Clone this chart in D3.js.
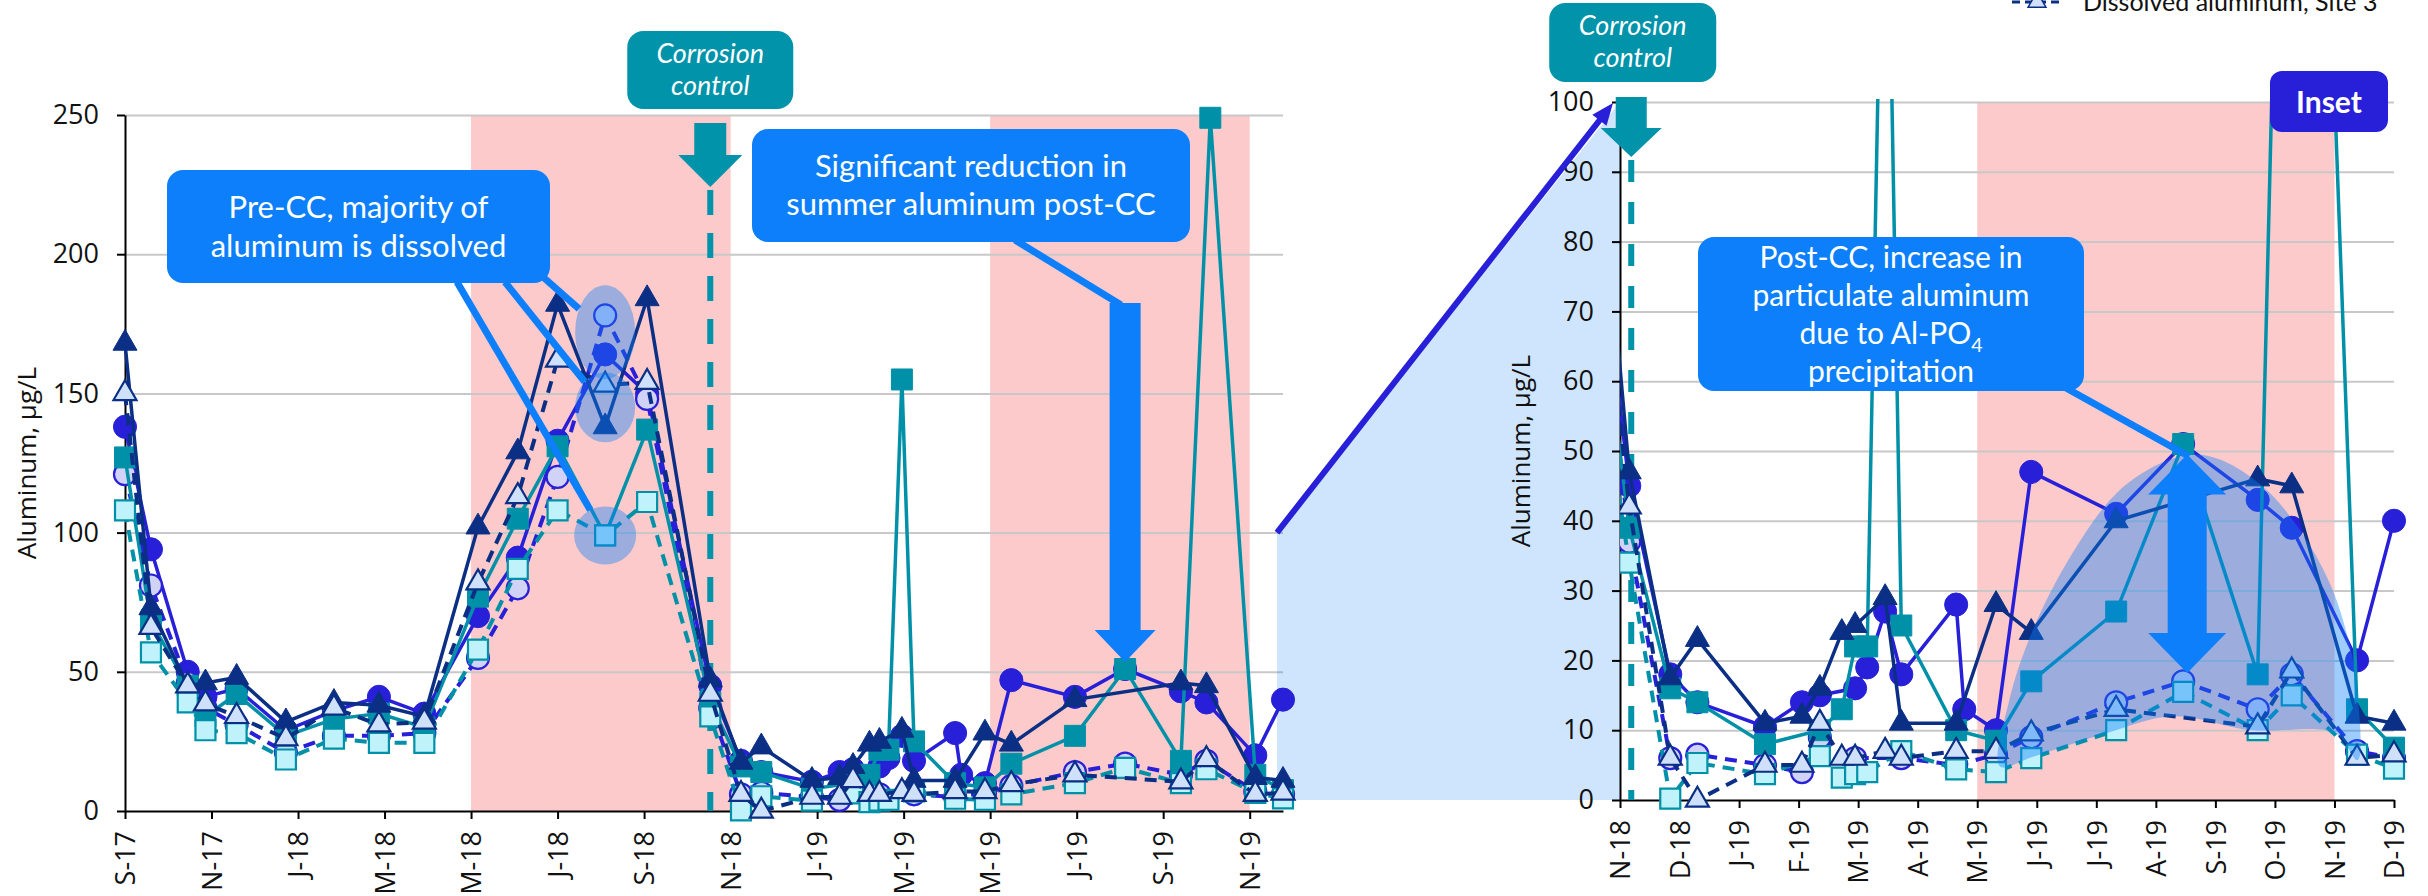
<!DOCTYPE html>
<html lang="en">
<head>
<meta charset="UTF-8">
<title>Aluminum before and after corrosion control</title>
<script src="https://d3js.org/d3.v7.min.js"></script>
<style>
  body { margin: 0; background: #fff; }
  svg { display: block; font-family: "Open Sans", sans-serif; }
  .grid line { stroke: #c8c8c8; stroke-width: 2; }
  .grid path { display: none; }
  .axis path, .axis line { stroke: #000; stroke-width: 2; }
  .axis text { font-size: 27px; fill: #111; font-family: "Open Sans", sans-serif; }
  .note { font-family: Lato, sans-serif; fill: #fff; }
</style>
</head>
<body>
<svg width="2428" height="896"></svg>
<script>
// x values are months counted from September 2017 (0 = S-17)
const leftTicks = ["S-17", "N-17", "J-18", "M-18", "M-18", "J-18", "S-18", "N-18", "J-19", "M-19", "M-19", "J-19", "S-19", "N-19"];
const insetTicks = ["N-18", "D-18", "J-19", "F-19", "M-19", "A-19", "M-19", "J-19", "J-19", "A-19", "S-19", "O-19", "N-19", "D-19"];
const leftYTicks = [0, 50, 100, 150, 200, 250];
const insetYTicks = [0, 10, 20, 30, 40, 50, 60, 70, 80, 90, 100];
const summers = [[8, 14], [20, 26]];
const ccMonth = 13.53;

const seriesNames = ["Total aluminum, Site 1", "Dissolved aluminum, Site 1", "Total aluminum, Site 2",
                     "Dissolved aluminum, Site 2", "Total aluminum, Site 3", "Dissolved aluminum, Site 3"];

// before corrosion control (all sites sampled together)
const preMonths = [0, 0.6, 1.45, 1.86, 2.58, 3.72, 4.83, 5.87, 6.92, 8.16, 9.08, 10.0, 11.1, 12.07];
const site1TotalPre = [138, 94, 50, 41, 44, 29, 36, 41, 35, 70, 91, 133, 164, 150];
const site1DissPre  = [121, 81, 46, 37, 31, 21, 27, 27, 28, 55, 80, 120, 178, 148];
const site2TotalPre = [127, 68, 45, 34, 42, 27, 33, 35, 30, 77, 105, 131, 99, 137];
const site2DissPre  = [108, 57, 39, 29, 28, 18.5, 26, 24.5, 24.5, 58, 87, 108, 99, 111];
const site3TotalPre = [168, 73, 45, 46, 48, 32, 39, 38, 34, 102, 129, 182, 138, 184];
const site3DissPre  = [150, 66, 45, 38.5, 34, 26, 37, 31, 32, 82, 113, 162, 153, 154];

// after corrosion control
const site1TotalPostMonths = [13.53, 14.24, 14.71, 15.88, 16.52, 16.83, 17.44, 17.65, 17.96, 18.24, 19.19, 19.33, 19.88, 20.49, 21.96, 23.12, 24.41, 25.0, 26.13, 26.77];
const site1TotalPost       = [45, 18, 14, 10.5, 14, 15, 16, 19, 27, 18, 28, 13, 10, 47, 41, 51, 43, 39, 20, 40];
const site1DissPostMonths  = [13.53, 14.24, 14.71, 15.88, 16.52, 16.83, 17.44, 18.24, 19.19, 19.88, 20.49, 21.96, 23.12, 24.41, 25.0, 26.13, 26.77];
const site1DissPost        = [37, 6, 6.5, 5, 4, 9, 6, 6, 5, 6.5, 9, 14, 17, 13, 18, 7, 6];
const site2TotalPostMonths = [13.53, 14.24, 14.71, 15.88, 16.83, 17.21, 17.44, 17.65, 17.96, 18.24, 19.19, 19.88, 20.49, 21.96, 23.12, 24.41, 25.09, 26.13, 26.77];
const site2TotalPost       = [39, 16, 14, 8, 10, 13, 22, 22, 155, 25, 10, 8.5, 17, 27, 51, 18, 249, 13, 7.5];
const site2DissPostMonths  = [13.53, 14.24, 14.71, 15.88, 16.83, 17.21, 17.44, 17.65, 18.24, 19.19, 19.88, 20.49, 21.96, 23.12, 24.41, 25.0, 26.13, 26.77];
const site2DissPost        = [34, 0.2, 5.3, 3.7, 6.3, 3.2, 3.7, 4, 7, 4.4, 4, 6, 10, 15.5, 10, 15, 6.5, 4.5];
const site3TotalPostMonths = [13.53, 14.24, 14.71, 15.88, 16.52, 16.83, 17.21, 17.44, 17.96, 18.24, 19.19, 19.88, 20.49, 21.96, 24.41, 25.0, 26.13, 26.77];
const site3TotalPost       = [47, 17.5, 23, 11, 12, 16, 24, 25, 29, 11, 11, 28, 24, 40, 46, 45, 12, 11];
const site3DissPostMonths  = [13.53, 14.24, 14.71, 15.88, 16.52, 16.83, 17.21, 17.44, 17.96, 18.24, 19.19, 19.88, 20.49, 21.96, 24.41, 25.0, 26.13, 26.77];
const site3DissPost        = [42, 6, 0, 5, 5, 11, 6, 6, 7, 6, 7, 7, 9.5, 13, 10.5, 18.5, 6, 6.5];

// outline of the shaded area in the inset (month, µg/L)
const particulateArea = [[19.95, 4.8], [20.1, 14], [20.52, 24.4], [21.2, 35.3], [21.97, 44], [22.72, 48.2], [23.3, 49.5],
  [23.78, 48.7], [24.5, 44.9], [25.14, 38.7], [25.66, 31], [25.95, 23.9], [26.12, 16.7], [26.14, 5.7],
  [25.75, 9.6], [24.3, 10], [22.94, 12], [21.8, 9.6], [20.52, 6.2]];

// colours
const pink = "#fccaca";
const noteBlue = "#0d7ffb";
const ccTeal = "#0093aa";
const violet = "#2820d8";

const styles = [
  {color: violet,    fill: violet,    dash: null,  shape: d3.symbolCircle,   size: 420},
  {color: violet,    fill: "#d0d2f6", dash: "12,8", shape: d3.symbolCircle,   size: 380},
  {color: "#0091a8", fill: "#0091a8", dash: null,  shape: d3.symbolSquare,   size: 440},
  {color: "#0091a8", fill: "#bff2fb", dash: "12,8", shape: d3.symbolSquare,   size: 400},
  {color: "#0b2f84", fill: "#0b2f84", dash: null,  shape: d3.symbolTriangle, size: 250},
  {color: "#0b2f84", fill: "#cfe1fa", dash: "12,8", shape: d3.symbolTriangle, size: 230}
];

const pre = [site1TotalPre, site1DissPre, site2TotalPre, site2DissPre, site3TotalPre, site3DissPre];
const postMonths = [site1TotalPostMonths, site1DissPostMonths, site2TotalPostMonths, site2DissPostMonths, site3TotalPostMonths, site3DissPostMonths];
const post = [site1TotalPost, site1DissPost, site2TotalPost, site2DissPost, site3TotalPost, site3DissPost];

const series = seriesNames.map((name, i) => ({
  name: name,
  ...styles[i],
  points: preMonths.map((m, j) => [m, pre[i][j]])
    .concat(postMonths[i].map((m, j) => [m, post[i][j]]))
}));

const svg = d3.select("svg");

// scales
const xL = d3.scaleLinear().domain([0, 26.77]).range([125, 1283]);
const yL = d3.scaleLinear().domain([0, 250]).range([811, 115]);
const xI = d3.scaleLinear().domain([13.37, 26.77]).range([1620, 2394]);
const yI = d3.scaleLinear().domain([0, 100]).range([800, 102]);
const xITick = d3.scalePoint().domain(d3.range(insetTicks.length)).range([1620, 2394]);

// summer bands
summers.forEach(([a, b]) => {
  svg.append("rect")
     .attr("x", xL(a)).attr("y", yL(250))
     .attr("width", xL(b) - xL(a)).attr("height", yL(0) - yL(250))
     .attr("fill", pink);
  const ia = Math.max(0, a - 14), ib = Math.min(insetTicks.length - 1, b - 14);
  if (ib > ia) {
    svg.append("rect")
       .attr("x", xITick(ia)).attr("y", yI(100))
       .attr("width", xITick(ib) - xITick(ia)).attr("height", yI(0) - yI(100))
       .attr("fill", pink);
  }
});

// grids
svg.append("g").attr("class", "grid")
   .attr("transform", `translate(${xL.range()[0]},0)`)
   .call(d3.axisLeft(yL).tickValues(leftYTicks.slice(1)).tickSize(-(xL.range()[1] - xL.range()[0])).tickFormat(""));
svg.append("g").attr("class", "grid")
   .attr("transform", `translate(${xI.range()[0]},0)`)
   .call(d3.axisLeft(yI).tickValues(insetYTicks.slice(1)).tickSize(-(xI.range()[1] - xI.range()[0])).tickFormat(""));

// light blue link between the main chart and the inset
const link = [[xL.range()[1] - 6, yL(100)], [xI.range()[0], yI(100)], [xI.range()[0], yI(0)], [xL.range()[1] - 6, yI(0)]];
svg.append("path")
   .attr("d", d3.line()(link) + "Z")
   .attr("fill", noteBlue).attr("fill-opacity", 0.2);

// axes
function rotateLabels(g) {
  g.selectAll("text")
   .attr("transform", "rotate(-90)")
   .attr("x", -20).attr("y", 0).attr("dy", "0.36em")
   .style("text-anchor", "end");
}

svg.append("g").attr("class", "axis")
   .attr("transform", `translate(${xL.range()[0]},0)`)
   .call(d3.axisLeft(yL).tickValues(leftYTicks).tickSize(8).tickPadding(18).tickSizeOuter(0));
svg.append("g").attr("class", "axis")
   .attr("transform", `translate(0,${yL(0)})`)
   .call(d3.axisBottom(xL).tickValues(d3.range(0, 27, 2)).tickFormat(t => leftTicks[t / 2]).tickSize(8).tickSizeOuter(0))
   .call(rotateLabels);

svg.append("g").attr("class", "axis")
   .attr("transform", `translate(${xI.range()[0]},0)`)
   .call(d3.axisLeft(yI).tickValues(insetYTicks).tickSize(8).tickPadding(18).tickSizeOuter(0));
svg.append("g").attr("class", "axis")
   .attr("transform", `translate(0,${yI(0)})`)
   .call(d3.axisBottom(xITick).tickFormat(i => insetTicks[i]).tickSize(8).tickSizeOuter(0))
   .call(rotateLabels);

// axis titles
[[xL, yL, 36], [xI, yI, 1530]].forEach(([x, y, tx]) => {
  svg.append("text")
     .attr("transform", `translate(${tx},${(y.range()[0] + y.range()[1]) / 2}) rotate(-90)`)
     .attr("text-anchor", "middle")
     .style("font-size", "26px").style("fill", "#111")
     .text("Aluminum, µg/L");
});

// corrosion control dashed lines (under the data)
const ccLeftX = xL(ccMonth), ccInsetX = xI(ccMonth);
svg.append("line").attr("x1", ccLeftX).attr("x2", ccLeftX).attr("y1", 190).attr("y2", yL(0))
   .attr("stroke", ccTeal).attr("stroke-width", 6).attr("stroke-dasharray", "25,18");
svg.append("line").attr("x1", ccInsetX + 2).attr("x2", ccInsetX + 2).attr("y1", 160).attr("y2", yI(0))
   .attr("stroke", ccTeal).attr("stroke-width", 6).attr("stroke-dasharray", "22,20");

// data
function drawSeries(g, x, y) {
  series.forEach(s => {
    g.append("path").datum(s.points)
     .attr("d", d3.line().x(d => x(d[0])).y(d => y(d[1])))
     .attr("fill", "none")
     .attr("stroke", s.color)
     .attr("stroke-width", s.dash ? 4 : 3.5)
     .attr("stroke-dasharray", s.dash);
    g.selectAll(null).data(s.points).join("path")
     .attr("transform", d => `translate(${x(d[0])},${y(d[1])})`)
     .attr("d", d3.symbol(s.shape, s.size))
     .attr("fill", s.fill)
     .attr("stroke", s.color)
     .attr("stroke-width", s.dash ? 2.2 : 1);
  });
}

drawSeries(svg.append("g"), xL, yL);

svg.append("clipPath").attr("id", "insetClip")
   .append("rect").attr("x", xI.range()[0]).attr("y", yI(100) - 3)
   .attr("width", 2428 - xI.range()[0]).attr("height", 740);
const insetG = svg.append("g").attr("clip-path", "url(#insetClip)");
drawSeries(insetG, xI, yI);

// highlight overlays
const hl = svg.append("g").attr("fill", noteBlue).attr("fill-opacity", 0.4);
const ellipses = [
  {v: 172, rx: 30, ry: 47},
  {v: 145, rx: 30, ry: 35},
  {v: 99,  rx: 31, ry: 29}
];
ellipses.forEach(e => {
  hl.append("ellipse").attr("cx", xL(11.1)).attr("cy", yL(e.v)).attr("rx", e.rx).attr("ry", e.ry);
});
insetG.append("path")
   .attr("d", d3.line().x(d => xI(d[0])).y(d => yI(d[1])).curve(d3.curveCatmullRomClosed.alpha(0.5))(particulateArea))
   .attr("fill", noteBlue).attr("fill-opacity", 0.4);

// arrow helpers
function downArrow(cx, top, headTop, tip, shaftW, headW, color) {
  const p = [[cx - shaftW / 2, top], [cx + shaftW / 2, top], [cx + shaftW / 2, headTop], [cx + headW / 2, headTop],
             [cx, tip], [cx - headW / 2, headTop], [cx - shaftW / 2, headTop]];
  svg.append("path").attr("d", d3.line()(p) + "Z").attr("fill", color);
}
function doubleArrow(cx, top, bottom, shaftW, headW, headL, color) {
  const p = [[cx, top], [cx + headW / 2, top + headL], [cx + shaftW / 2, top + headL], [cx + shaftW / 2, bottom - headL],
             [cx + headW / 2, bottom - headL], [cx, bottom], [cx - headW / 2, bottom - headL], [cx - shaftW / 2, bottom - headL],
             [cx - shaftW / 2, top + headL], [cx - headW / 2, top + headL]];
  svg.append("path").attr("d", d3.line()(p) + "Z").attr("fill", color);
}
function connector(x1, y1, x2, y2, color, w) {
  svg.append("line").attr("x1", x1).attr("y1", y1).attr("x2", x2).attr("y2", y2)
     .attr("stroke", color).attr("stroke-width", w);
}
function box(x, y, w, h, color, lines, baselines, size, italic) {
  svg.append("rect").attr("x", x).attr("y", y).attr("width", w).attr("height", h)
     .attr("rx", 16).attr("fill", color);
  const t = svg.append("text").attr("class", "note").attr("text-anchor", "middle")
     .style("font-size", size + "px").style("font-style", italic ? "italic" : "normal");
  lines.forEach((l, i) => {
    const ts = t.append("tspan").attr("x", x + w / 2).attr("y", baselines[i]);
    if (Array.isArray(l)) {
      ts.text(l[0]);
      ts.append("tspan").attr("dy", 8).style("font-size", (size * 0.65) + "px").text(l[1]);
    } else {
      ts.text(l);
    }
  });
}

// corrosion control markers
downArrow(ccLeftX, 123, 155, 187, 32, 64, ccTeal);
box(ccLeftX - 83, 31, 166, 78, ccTeal, ["Corrosion", "control"], [63, 95], 27, true);
downArrow(ccInsetX + 2, 97, 128, 157, 31, 61, ccTeal);
box(ccInsetX - 80, 3, 167, 79, ccTeal, ["Corrosion", "control"], [35, 67], 27, true);

// pre-CC callout
const preBox = {x: 167, y: 170, w: 383, h: 113};
[[457, 0], [505, 1], [543, 2]].forEach(([sx, k]) => {
  const e = ellipses[2 - k];
  const cx = xL(11.1), cy = yL(e.v);
  const sy = preBox.y + preBox.h - (k === 2 ? 6 : 1);
  const dx = cx - sx, dy = cy - sy, len = Math.hypot(dx, dy);
  const r = 1 / Math.sqrt((dx / len / e.rx) ** 2 + (dy / len / e.ry) ** 2);
  connector(sx, sy, cx - dx / len * r, cy - dy / len * r, noteBlue, 7);
});
box(preBox.x, preBox.y, preBox.w, preBox.h, noteBlue, ["Pre-CC, majority of", "aluminum is dissolved"], [218, 257], 31);

// summer reduction callout
const bigArrowX = xL(23.12);
connector(1015, 240, bigArrowX - 4, 305, noteBlue, 7);
downArrow(bigArrowX, 303, 630, yL(51) - 7, 31, 61, noteBlue);
box(752, 129, 438, 113, noteBlue, ["Significant reduction in", "summer aluminum post-CC"], [177, 215], 31);

// inset callout
const dblX = xI(23.12) + 4;
connector(2066, 388, dblX + 2, yI(49.5) + 2, noteBlue, 7);
doubleArrow(dblX, yI(49.5), yI(18.2), 39, 78, 40, noteBlue);
box(1698, 237, 386, 154, noteBlue,
    ["Post-CC, increase in", "particulate aluminum", ["due to Al-PO", "4"], "precipitation"],
    [268, 306, 344, 382], 30);

// zoom arrow from the main chart to the inset
const zx1 = xL.range()[1] - 6, zy1 = yL(100), zx2 = xI.range()[0] - 7, zy2 = yI(100) + 1;
const ang = Math.atan2(zy2 - zy1, zx2 - zx1);
connector(zx1, zy1, zx2 - 14 * Math.cos(ang), zy2 - 14 * Math.sin(ang), violet, 6);
const hL = 22, hW = 9;
const head = [[zx2, zy2],
  [zx2 - hL * Math.cos(ang) + hW * Math.sin(ang), zy2 - hL * Math.sin(ang) - hW * Math.cos(ang)],
  [zx2 - hL * Math.cos(ang) - hW * Math.sin(ang), zy2 - hL * Math.sin(ang) + hW * Math.cos(ang)]];
svg.append("path").attr("d", d3.line()(head) + "Z").attr("fill", violet);

// inset label
svg.append("rect").attr("x", 2270).attr("y", 71).attr("width", 118).attr("height", 61).attr("rx", 12).attr("fill", violet);
svg.append("text").attr("class", "note").attr("x", 2329).attr("y", 113)
   .attr("text-anchor", "middle").style("font-size", "30px").style("font-weight", "bold").text("Inset");

// legend: only its last row reaches into the picture, the rest lies above it
const legendRow = series[series.length - 1];
const legend = svg.append("g");
const lrow = legend.append("g").attr("transform", "translate(2012,2)");
lrow.append("line").attr("x1", 0).attr("x2", 50)
    .attr("stroke", legendRow.color).attr("stroke-width", 3).attr("stroke-dasharray", "8,5");
lrow.append("path").attr("transform", "translate(25,0)")
    .attr("d", d3.symbol(legendRow.shape, legendRow.size * 0.6))
    .attr("fill", legendRow.fill).attr("stroke", legendRow.color).attr("stroke-width", 1.5);
legend.append("text").attr("x", 2083).attr("y", 11)
    .style("font-size", "25px").style("font-family", "Lato, sans-serif").style("fill", "#111")
    .text(legendRow.name);
</script>
</body>
</html>
